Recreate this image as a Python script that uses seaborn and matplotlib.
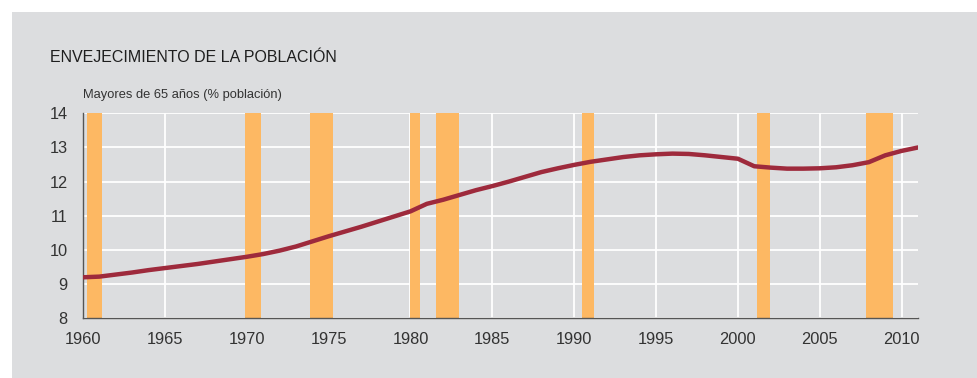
import numpy as np
import pandas as pd
import seaborn as sns
import matplotlib.pyplot as plt
from matplotlib.patches import Rectangle

# Datos: mayores de 65 años (% población)
years = list(range(1960, 2012))
pct_65 = [9.20, 9.22, 9.28, 9.34, 9.41, 9.47, 9.53, 9.59, 9.66, 9.73,
          9.80, 9.88, 9.98, 10.10, 10.25, 10.40, 10.54, 10.68, 10.83, 10.98,
          11.13, 11.35, 11.47, 11.61, 11.75, 11.87, 12.00, 12.14, 12.28, 12.39,
          12.49, 12.58, 12.65, 12.72, 12.77, 12.80, 12.82, 12.81, 12.77, 12.72,
          12.67, 12.45, 12.41, 12.38, 12.38, 12.39, 12.42, 12.48, 12.57, 12.77,
          12.90, 13.00]

# Periodos de recesión (inicio, fin)
rec_start = [1960.25, 1969.9, 1973.85, 1980.0, 1981.55, 1990.5, 2001.15, 2007.85]
rec_end = [1961.15, 1970.9, 1975.25, 1980.6, 1982.95, 1991.2, 2001.95, 2009.45]

df = pd.DataFrame({'year': years, 'pct': pct_65})

bg = '#dcdddf'
sns.set_theme(style='whitegrid')
plt.rcParams['font.family'] = ['Liberation Sans', 'DejaVu Sans']

fig = plt.figure(figsize=(9.77, 3.78), dpi=100)
fig.patch.set_facecolor('white')
# panel gris
fig.patches.append(Rectangle((12 / 977, 0), 1 - 12 / 977, 1 - 12 / 378,
                             transform=fig.transFigure, facecolor=bg,
                             edgecolor='none', zorder=-10))

ax = fig.add_axes([83 / 977, 1 - 318.3 / 378, (918 - 83) / 977, (318.3 - 113.3) / 378])
ax.set_facecolor(bg)

for s, e in zip(rec_start, rec_end):
    ax.axvspan(s, e, color='#fdb863', lw=0, zorder=1)

sns.lineplot(data=df, x='year', y='pct', ax=ax, color='#9e2a3c', lw=3.2, zorder=3)

ax.set_xlim(1960, 2011)
ax.set_ylim(8, 14)
ax.set_xticks(range(1960, 2011, 5))
ax.set_yticks(range(8, 15))
ax.grid(True, color='white', lw=1.3)
ax.set_axisbelow(True)
ax.set_xlabel('')
ax.set_ylabel('')
for side in ['top', 'right']:
    ax.spines[side].set_visible(False)
for side in ['left', 'bottom']:
    ax.spines[side].set_visible(True)
    ax.spines[side].set_color('#555555')
    ax.spines[side].set_linewidth(1.0)
ax.tick_params(axis='both', labelsize=11.8, colors='#333333', length=0)
ax.tick_params(axis='x', pad=10)
ax.tick_params(axis='y', pad=11)

fig.text(50 / 977, 1 - 57 / 378, 'ENVEJECIMIENTO DE LA POBLACIÓN', fontsize=11.5,
         color='#1e1e1e', va='center', ha='left')
fig.text(83 / 977, 1 - 95 / 378, 'Mayores de 65 años (% población)', fontsize=9.3,
         color='#333333', va='center', ha='left')

fig.savefig('out.png', dpi=100, facecolor=fig.get_facecolor())
